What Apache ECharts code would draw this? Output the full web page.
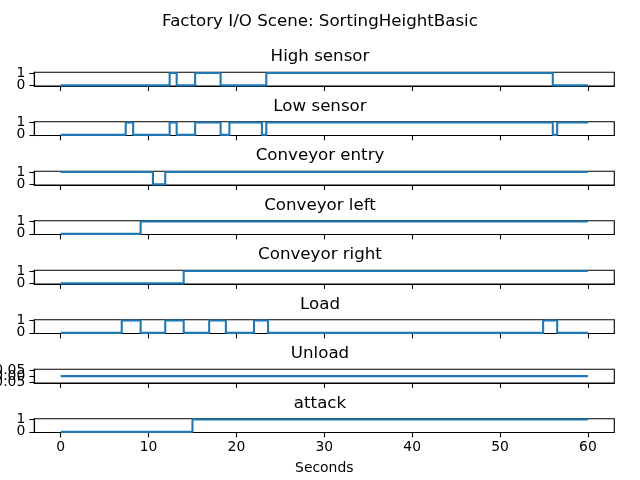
<!DOCTYPE html>
<html>
<head>
<meta charset="utf-8">
<script src="https://cdn.jsdelivr.net/npm/echarts@6/dist/echarts.min.js"></script>
<style>
html,body{margin:0;padding:0;background:#fff;}
#chart{width:640px;height:480px;}
</style>
</head>
<body>
<div id="chart"></div>
<script>
// ---- Data (transition times in seconds and the state from that time on) ----
const suptitle = "Factory I/O Scene: SortingHeightBasic";
const xLabel = "Seconds";
const xTicks = [0, 10, 20, 30, 40, 50, 60];

const highTimes = [0, 12.4, 13.2, 15.3, 18.2, 23.4, 56.0, 60];
const highVals  = [0, 1, 0, 1, 0, 1, 0, 0];

const lowTimes = [0, 7.4, 8.25, 12.4, 13.2, 15.3, 18.2, 19.2, 22.9, 23.4, 56.0, 56.5, 60];
const lowVals  = [0, 1, 0, 1, 0, 1, 0, 1, 0, 1, 0, 1, 1];

const entryTimes = [0, 10.5, 11.9, 60];
const entryVals  = [1, 0, 1, 1];

const leftTimes = [0, 9.1, 60];
const leftVals  = [0, 1, 1];

const rightTimes = [0, 14.0, 60];
const rightVals  = [0, 1, 1];

const loadTimes = [0, 6.95, 9.1, 11.9, 14.0, 16.9, 18.8, 22.0, 23.6, 54.9, 56.5, 60];
const loadVals  = [0, 1, 0, 1, 0, 1, 0, 1, 0, 1, 0, 0];

const unloadTimes = [0, 60];
const unloadVals  = [0, 0];

const attackTimes = [0, 15.0, 60];
const attackVals  = [0, 1, 1];

const panelTitles = ["High sensor", "Low sensor", "Conveyor entry", "Conveyor left",
                     "Conveyor right", "Load", "Unload", "attack"];
const panelTimes = [highTimes, lowTimes, entryTimes, leftTimes, rightTimes, loadTimes, unloadTimes, attackTimes];
const panelVals  = [highVals, lowVals, entryVals, leftVals, rightVals, loadVals, unloadVals, attackVals];
const binaryTicks = [0, 1];
const unloadTicks = [-0.05, 0, 0.05];

// ---- Layout ----
const FONT = "DejaVu Sans";
const gridLeft = 34.3, gridWidth = 580;
const gridTop0 = 72.3, gridStep = 49.5, gridHeight = 13.7;
const n = panelTitles.length;

const grids = [], xAxes = [], yAxes = [], series = [], titles = [];
titles.push({
  text: suptitle, left: 'center', top: 8,
  textStyle: {fontFamily: FONT, fontSize: 16.67, fontWeight: 'normal', color: '#000'}
});
function fmtTick(isUnload) {
  return function (v) {
    if (isUnload) { const s = Math.abs(v).toFixed(2); return v < -1e-9 ? '\u2212' + s : s; }
    return String(Math.round(v));
  };
}
for (let i = 0; i < n; i++) {
  const top = gridTop0 + gridStep * i;
  grids.push({left: gridLeft, width: gridWidth, top: top, height: gridHeight,
              containLabel: false, outerBoundsMode: 'none',
              show: true, borderColor: '#000', borderWidth: 1.1, backgroundColor: 'transparent'});
  const last = i === n - 1;
  xAxes.push({
    type: 'value', gridIndex: i, min: -3, max: 63, position: 'bottom',
    axisLine: {show: true, onZero: false, lineStyle: {color: '#000', width: 1.1}},
    axisTick: {show: true, customValues: xTicks, length: 4.9, lineStyle: {color: '#000', width: 1.1}},
    axisLabel: {show: last, customValues: xTicks, margin: 8, hideOverlap: false,
                fontFamily: FONT, fontSize: 13.9, color: '#000'},
    splitLine: {show: false},
    name: last ? xLabel : '', nameLocation: 'middle', nameGap: 29,
    nameTextStyle: {fontFamily: FONT, fontSize: 13.9, color: '#000'}
  });
  const isUnload = panelTitles[i] === "Unload";
  const ticks = isUnload ? unloadTicks : binaryTicks;
  const yMin = isUnload ? -0.055 : -0.05, yMax = isUnload ? 0.055 : 1.05;
  const mainIndex = yAxes.length;
  // main axis: line only
  yAxes.push({
    type: 'value', gridIndex: i, min: yMin, max: yMax, position: 'left', offset: 0,
    axisLine: {show: true, onZero: false, lineStyle: {color: '#000', width: 1.1}},
    axisTick: {show: false}, axisLabel: {show: false}, splitLine: {show: false}
  });
  // one label axis per tick so labels are never culled for overlap
  ticks.forEach(function (tv) {
    yAxes.push({
      type: 'value', gridIndex: i, min: yMin, max: yMax, position: 'left', offset: 0,
      axisLine: {show: false, onZero: false},
      axisTick: {show: true, customValues: [tv], length: 4.9, lineStyle: {color: '#000', width: 1.1}},
      axisLabel: {show: true, customValues: [tv], margin: 9, hideOverlap: false,
        fontFamily: FONT, fontSize: 13.9, color: '#000', formatter: fmtTick(isUnload)},
      splitLine: {show: false}
    });
  });
  series.push({
    type: 'line', xAxisIndex: i, yAxisIndex: mainIndex, step: 'end', symbol: 'none',
    lineStyle: {color: '#1f77b4', width: 2.08}, animation: false,
    data: panelTimes[i].map((t, k) => [t, panelVals[i][k]])
  });
  titles.push({
    text: panelTitles[i], left: 'center', top: top - 29,
    textStyle: {fontFamily: FONT, fontSize: 16.67, fontWeight: 'normal', color: '#000'}
  });
}

const chart = echarts.init(document.getElementById('chart'), null, {renderer: 'canvas'});
chart.setOption({
  backgroundColor: '#fff', animation: false,
  title: titles, grid: grids, xAxis: xAxes, yAxis: yAxes, series: series
});
</script>
</body>
</html>
